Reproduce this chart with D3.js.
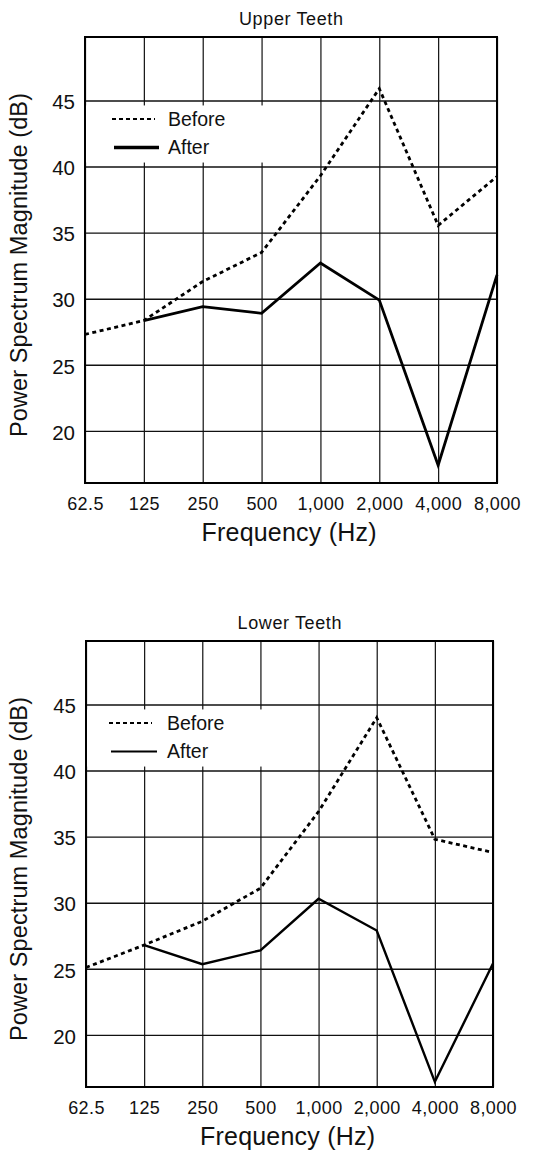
<!DOCTYPE html>
<html>
<head>
<meta charset="utf-8">
<script src="https://cdn.jsdelivr.net/npm/d3@7"></script>
<style>
  body { margin: 0; background: #fff; }
  svg { display: block; font-family: "Liberation Sans", Arial, Helvetica, sans-serif; }
</style>
</head>
<body>
<div id="chart"></div>
<script>
// frequencies (Hz) on a log2 axis
const freqs = [62.5, 125, 250, 500, 1000, 2000, 4000, 8000];
const freqLabels = ["62.5", "125", "250", "500", "1,000", "2,000", "4,000", "8,000"];
const dbTicks = [20, 25, 30, 35, 40, 45];
const seriesNames = ["Before", "After"];

// Upper teeth, dB
const upperBefore = [27.3, 28.35, 31.3, 33.5, 39.3, 45.9, 35.55, 39.25];
const upperAfter = [null, 28.35, 29.4, 28.9, 32.7, 29.9, 17.4, 31.8];
// Lower teeth, dB
const lowerBefore = [25.1, 26.8, 28.6, 31.1, 36.9, 44.0, 34.8, 33.8];
const lowerAfter = [null, 26.8, 25.35, 26.4, 30.3, 27.9, 16.45, 25.4];

const W = 533, H = 1155;
const svg = d3.select("#chart").append("svg")
  .attr("width", W)
  .attr("height", H);

function panel(cfg) {
  var x = d3.scaleLog().base(2)
    .domain([freqs[0], freqs[freqs.length - 1]])
    .range([cfg.left, cfg.right]);
  var y = d3.scaleLinear()
    .domain([16.06, 49.8])
    .range([cfg.bottom, cfg.top]);
  var g = svg.append("g");

  // vertical grid
  g.append("g")
    .attr("transform", "translate(0," + cfg.bottom + ")")
    .call(d3.axisBottom(x).tickValues(freqs).tickSize(-(cfg.bottom - cfg.top)).tickFormat(""))
    .call(function (a) {
      a.select(".domain").remove();
      a.selectAll("line").attr("stroke", "#111").attr("stroke-width", 1.2);
    });
  // horizontal grid
  g.append("g")
    .attr("transform", "translate(" + cfg.left + ",0)")
    .call(d3.axisLeft(y).tickValues(dbTicks).tickSize(-(cfg.right - cfg.left)).tickFormat(""))
    .call(function (a) {
      a.select(".domain").remove();
      a.selectAll("line").attr("stroke", "#111").attr("stroke-width", 1.4);
    });

  // legend background covers grid
  g.append("rect")
    .attr("x", cfg.left + 1)
    .attr("y", y(45) + 5)
    .attr("width", 195)
    .attr("height", y(40) - y(45) - 9)
    .attr("fill", "#fff");

  // frame
  g.append("rect")
    .attr("x", cfg.left).attr("y", cfg.top)
    .attr("width", cfg.right - cfg.left)
    .attr("height", cfg.bottom - cfg.top)
    .attr("fill", "none")
    .attr("stroke", "#000")
    .attr("stroke-width", 2);

  // tick labels
  g.append("g")
    .attr("transform", "translate(0," + (cfg.bottom + 27) + ")")
    .call(d3.axisBottom(x).tickValues(freqs).tickSize(0).tickPadding(0)
      .tickFormat(function (d, i) { return freqLabels[i]; }))
    .call(function (a) {
      a.select(".domain").remove();
      a.selectAll("text")
        .attr("dy", 0)
        .attr("fill", "#111")
        .attr("font-size", "18px")
        .attr("letter-spacing", "0.4px")
        .attr("font-family", "'Liberation Sans', Arial, sans-serif");
    });
  g.append("g")
    .attr("transform", "translate(" + (cfg.left - 10) + ",0)")
    .call(d3.axisLeft(y).tickValues(dbTicks).tickSize(0).tickPadding(0))
    .call(function (a) {
      a.select(".domain").remove();
      a.selectAll("text")
        .attr("dy", "0.4em")
        .attr("fill", "#111")
        .attr("font-size", "20.5px")
        .attr("font-family", "'Liberation Sans', Arial, sans-serif");
    });

  // lines
  var line = d3.line()
    .defined(function (d) { return d[1] != null; })
    .x(function (d) { return x(d[0]); })
    .y(function (d) { return y(d[1]); });
  g.append("path")
    .datum(freqs.map(function (f, i) { return [f, cfg.before[i]]; }))
    .attr("d", line)
    .attr("fill", "none")
    .attr("stroke", "#000")
    .attr("stroke-width", 2.8)
    .attr("stroke-dasharray", "4,3.5");
  g.append("path")
    .datum(freqs.map(function (f, i) { return [f, cfg.after[i]]; }))
    .attr("d", line)
    .attr("fill", "none")
    .attr("stroke", "#000")
    .attr("stroke-width", cfg.afterWidth)
    .attr("stroke-linejoin", "miter");

  // legend
  var ly = [y(45) + 18.5, y(45) + 47];
  seriesNames.forEach(function (name, i) {
    g.append("line")
      .attr("x1", cfg.left + cfg.legX[i][0])
      .attr("x2", cfg.left + cfg.legX[i][1])
      .attr("y1", ly[i]).attr("y2", ly[i])
      .attr("stroke", "#000")
      .attr("stroke-width", i === 0 ? 2 : cfg.legAfterWidth)
      .attr("stroke-dasharray", i === 0 ? "4,3" : null);
    g.append("text")
      .attr("x", cfg.left + cfg.legText)
      .attr("y", ly[i])
      .attr("dy", "0.36em")
      .attr("font-size", "19.5px")
      .attr("fill", "#111")
      .text(name);
  });

  // title
  g.append("text")
    .attr("x", (cfg.left + cfg.right) / 2)
    .attr("y", cfg.top - 12)
    .attr("text-anchor", "middle")
    .attr("font-size", "18px")
    .attr("textLength", 104)
    .attr("lengthAdjust", "spacing")
    .attr("fill", "#111")
    .text(cfg.title);
  // x label
  g.append("text")
    .attr("x", (cfg.left + cfg.right) / 2 - 2)
    .attr("y", cfg.bottom + 58)
    .attr("text-anchor", "middle")
    .attr("font-size", "25px")
    .attr("textLength", 175)
    .attr("lengthAdjust", "spacing")
    .attr("fill", "#111")
    .text("Frequency (Hz)");
  // y label
  g.append("text")
    .attr("transform", "translate(27," + ((cfg.top + cfg.bottom) / 2 + 5) + ") rotate(-90)")
    .attr("text-anchor", "middle")
    .attr("font-size", "23.5px")
    .attr("textLength", 344)
    .attr("lengthAdjust", "spacing")
    .attr("fill", "#111")
    .text("Power Spectrum Magnitude (dB)");
}

panel({
  title: "Upper Teeth",
  left: 85, right: 497, top: 37, bottom: 483,
  before: upperBefore, after: upperAfter,
  afterWidth: 2.8, legAfterWidth: 3.5,
  legX: [[27, 70], [29, 74]], legText: 83
});
panel({
  title: "Lower Teeth",
  left: 86, right: 493, top: 641, bottom: 1087,
  before: lowerBefore, after: lowerAfter,
  afterWidth: 2.4, legAfterWidth: 2,
  legX: [[23, 66], [25, 71]], legText: 81
});
</script>
</body>
</html>
